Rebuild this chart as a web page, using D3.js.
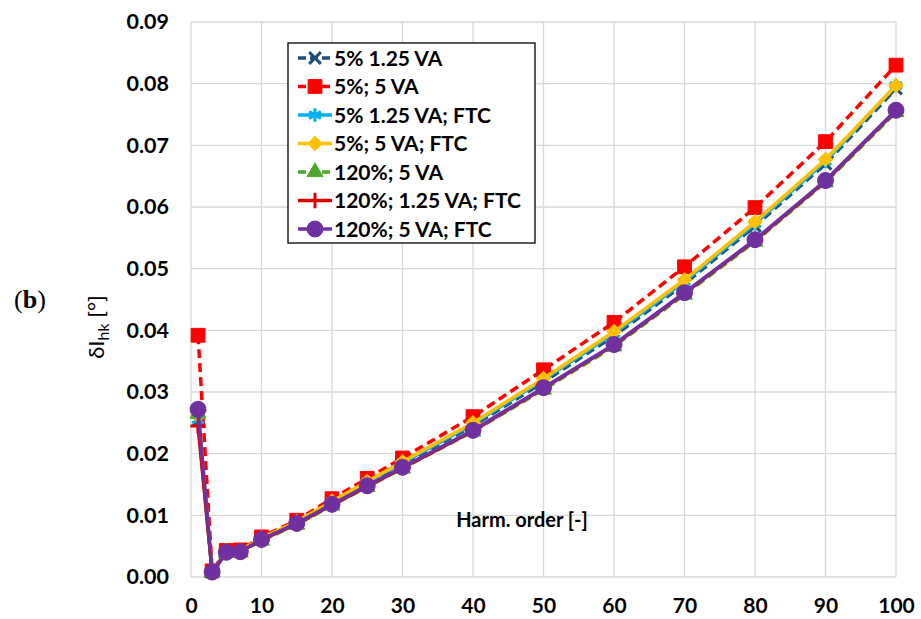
<!DOCTYPE html>
<html>
<head>
<meta charset="utf-8">
<script src="https://cdn.jsdelivr.net/npm/d3@7"></script>
<style>
  body { margin: 0; background: #fff; }
  svg { display: block; font-family: Lato, "Open Sans", sans-serif; }
</style>
</head>
<body>
<svg id="chart"></svg>
<script>
// Harmonic orders (x values)
const harmonics = [1, 3, 5, 7, 10, 15, 20, 25, 30, 40, 50, 60, 70, 80, 90, 100];

// Series values
const s5_125 = [0.0253, 0.0009, 0.0041, 0.0042, 0.0062, 0.0088, 0.0121, 0.0152, 0.0183, 0.0245, 0.0316, 0.0391, 0.0475, 0.0569, 0.0670, 0.0792];
const s5_5 = [0.0392, 0.0010, 0.0043, 0.0044, 0.0065, 0.0092, 0.0127, 0.0160, 0.0193, 0.0260, 0.0336, 0.0413, 0.0503, 0.0599, 0.0706, 0.0830];
const s5_125_ftc = [0.0255, 0.0009, 0.0042, 0.0043, 0.0062, 0.0089, 0.0122, 0.0154, 0.0185, 0.0248, 0.0320, 0.0395, 0.0479, 0.0573, 0.0674, 0.0797];
const s5_5_ftc = [0.0262, 0.0009, 0.0042, 0.0043, 0.0063, 0.0090, 0.0123, 0.0155, 0.0187, 0.0250, 0.0322, 0.0398, 0.0482, 0.0576, 0.0677, 0.0797];
const s120_5 = [0.0265, 0.0007, 0.0039, 0.0040, 0.0059, 0.0085, 0.0116, 0.0146, 0.0176, 0.0236, 0.0304, 0.0374, 0.0458, 0.0544, 0.0640, 0.0754];
const s120_125_ftc = [0.0245, 0.0008, 0.0040, 0.0041, 0.0060, 0.0086, 0.0117, 0.0147, 0.0177, 0.0237, 0.0306, 0.0376, 0.0460, 0.0546, 0.0642, 0.0756];
const s120_5_ftc = [0.0272, 0.0008, 0.0040, 0.0041, 0.0061, 0.0087, 0.0118, 0.0148, 0.0178, 0.0238, 0.0307, 0.0377, 0.0461, 0.0547, 0.0643, 0.0757];

// Tick values
const xTicks = [0, 10, 20, 30, 40, 50, 60, 70, 80, 90, 100];
const yTicks = [0, 0.01, 0.02, 0.03, 0.04, 0.05, 0.06, 0.07, 0.08, 0.09];

// Series definitions (drawing order = legend order)
const series = [
  { name: '5% 1.25 VA', values: s5_125, color: '#1F4E79', dash: '9,5', marker: 'x' },
  { name: '5%; 5 VA', values: s5_5, color: '#FF0000', dash: '9,5', marker: 'square' },
  { name: '5% 1.25 VA; FTC', values: s5_125_ftc, color: '#00B0F0', dash: null, marker: 'asterisk' },
  { name: '5%; 5 VA; FTC', values: s5_5_ftc, color: '#FFC000', dash: null, marker: 'diamond' },
  { name: '120%; 5 VA', values: s120_5, color: '#4EA72E', dash: '9,5', marker: 'triangle' },
  { name: '120%; 1.25 VA; FTC', values: s120_125_ftc, color: '#E00000', dash: null, marker: 'plus' },
  { name: '120%; 5 VA; FTC', values: s120_5_ftc, color: '#7030A0', dash: null, marker: 'circle' }
];

// Chart dimensions
const W = 921, H = 619;
const margin = { top: 22, right: 25, bottom: 42, left: 191 };
const width = W - margin.left - margin.right;
const height = H - margin.top - margin.bottom;

const root = d3.select('#chart').attr('width', W).attr('height', H);
const svg = root.append('g').attr('transform', `translate(${margin.left},${margin.top})`);

// Scales
const xScale = d3.scaleLinear().domain([0, 100]).range([0, width]);
const yScale = d3.scaleLinear().domain([0, 0.09]).range([height, 0]);

// Gridlines
svg.append('g')
  .selectAll('line')
  .data(yTicks)
  .enter().append('line')
  .attr('x1', 0).attr('x2', width)
  .attr('y1', d => yScale(d)).attr('y2', d => yScale(d))
  .attr('stroke', '#d9d9d9').attr('stroke-width', 1.3);

svg.append('g')
  .selectAll('line')
  .data(xTicks)
  .enter().append('line')
  .attr('x1', d => xScale(d)).attr('x2', d => xScale(d))
  .attr('y1', 0).attr('y2', height)
  .attr('stroke', '#d9d9d9').attr('stroke-width', 1.3);

// Axes (labels only)
const xAxis = d3.axisBottom(xScale).tickValues(xTicks).tickSize(0).tickPadding(21).tickFormat(d3.format('d'));
const yAxis = d3.axisLeft(yScale).tickValues(yTicks).tickSize(0).tickPadding(22).tickFormat(d3.format('.2f'));

svg.append('g')
  .attr('transform', `translate(0,${height})`)
  .call(xAxis)
  .call(g => g.select('.domain').remove())
  .selectAll('text')
  .attr('font-family', 'Lato, sans-serif')
  .attr('font-size', 21).attr('font-weight', 'bold').attr('fill', '#000');

svg.append('g')
  .call(yAxis)
  .call(g => g.select('.domain').remove())
  .selectAll('text')
  .attr('font-family', 'Lato, sans-serif')
  .attr('font-size', 21.5).attr('font-weight', 'bold').attr('fill', '#000');

// Marker paths
function markerPath(type) {
  switch (type) {
    case 'square': return d3.symbol(d3.symbolSquare, 190)();
    case 'circle': return d3.symbol(d3.symbolCircle, 200)();
    case 'triangle': return d3.symbol(d3.symbolTriangle, 110)();
    case 'diamond': return d3.symbol(d3.symbolSquare, 100)();
    case 'x': return d3.symbol(d3.symbolX, 90)();
    case 'plus': return d3.symbol(d3.symbolPlus, 80)();
    case 'asterisk': return d3.symbol(d3.symbolAsterisk, 130)();
  }
}
const strokeMarkers = ['x', 'plus', 'asterisk'];

function drawMarker(sel, s) {
  const stroked = strokeMarkers.includes(s.marker);
  sel.append('path')
    .attr('d', markerPath(s.marker))
    .attr('transform', s.marker === 'diamond' ? 'rotate(45)' : null)
    .attr('fill', stroked ? 'none' : s.color)
    .attr('stroke', s.color)
    .attr('stroke-width', stroked ? 3 : 1);
}

// Lines and markers
const line = d3.line()
  .x((d, i) => xScale(harmonics[i]))
  .y(d => yScale(d));

series.forEach(s => {
  const g = svg.append('g');
  g.append('path')
    .attr('d', line(s.values))
    .attr('fill', 'none')
    .attr('stroke', s.color)
    .attr('stroke-width', 3.5)
    .attr('stroke-dasharray', s.dash);
  g.selectAll('.pt')
    .data(s.values)
    .enter().append('g')
    .attr('class', 'pt')
    .attr('transform', (d, i) => `translate(${xScale(harmonics[i])},${yScale(d)})`)
    .each(function() { drawMarker(d3.select(this), s); });
});

// Legend
const legend = root.append('g').attr('transform', 'translate(288,43)');
legend.append('rect')
  .attr('width', 247).attr('height', 200)
  .attr('fill', '#fff').attr('stroke', '#000').attr('stroke-width', 1.3);

series.forEach((s, i) => {
  const item = legend.append('g').attr('transform', `translate(0,${15 + i * 28.5})`);
  item.append('line')
    .attr('x1', 10).attr('x2', 44)
    .attr('stroke', s.color).attr('stroke-width', 3.5)
    .attr('stroke-dasharray', s.dash ? '8,4' : null);
  const m = item.append('g').attr('transform', 'translate(27,0)');
  drawMarker(m, s);
  item.append('text')
    .attr('x', 46).attr('y', 0).attr('dy', '0.36em')
    .attr('font-size', 21).attr('font-weight', 'bold')
    .text(s.name);
});

// Axis titles
const yTitle = root.append('text')
  .attr('transform', 'translate(104,327) rotate(-90)')
  .attr('text-anchor', 'middle')
  .attr('font-size', 22);
yTitle.append('tspan').text('δI');
yTitle.append('tspan').attr('font-size', 16).attr('dy', 5).text('hk');
yTitle.append('tspan').attr('dy', -5).text(' [°]');

root.append('text')
  .attr('x', 522).attr('y', 527)
  .attr('text-anchor', 'middle')
  .attr('font-size', 20).attr('font-weight', 'bold')
  .text('Harm. order [-]');

// Panel label
const panel = root.append('text')
  .attr('x', 14).attr('y', 308)
  .attr('font-family', '"Liberation Serif", serif')
  .attr('font-size', 26);
panel.append('tspan').text('(');
panel.append('tspan').attr('font-weight', 'bold').text('b');
panel.append('tspan').text(')');
</script>
</body>
</html>
